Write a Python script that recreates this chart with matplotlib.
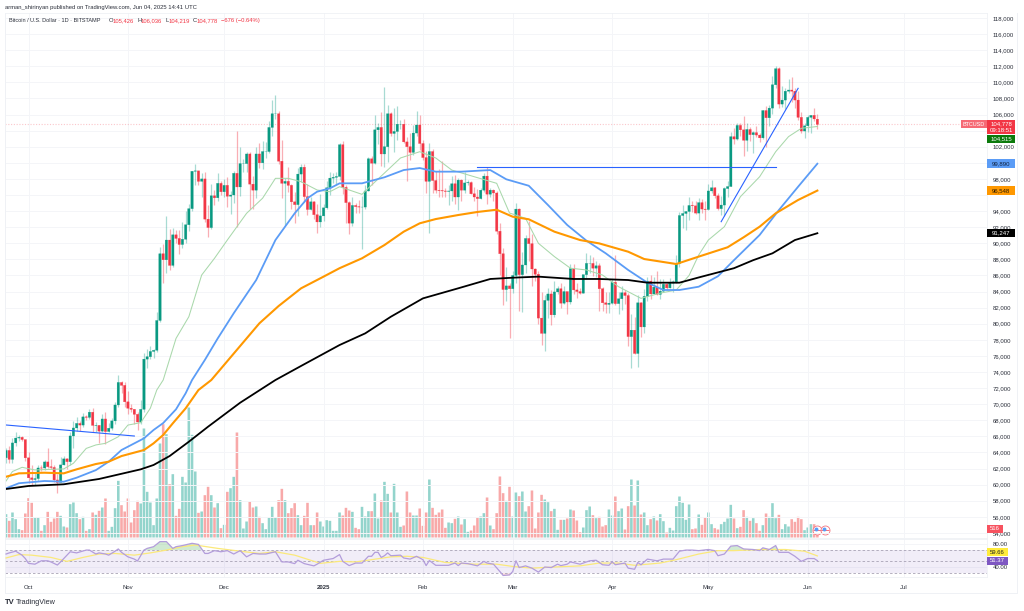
import numpy as np
import pandas as pd
import matplotlib
matplotlib.use('Agg')
import matplotlib.pyplot as plt
from matplotlib.lines import Line2D
from matplotlib.patches import Rectangle
from matplotlib.transforms import blended_transform_factory

plt.rcParams['font.family'] = ['Liberation Sans', 'DejaVu Sans']

start = pd.Timestamp('2024-09-24')

# daily bars, thousands of USD
close = [64.25, 63.14, 65.18, 65.79, 65.88, 65.60, 63.33,
         60.84, 60.63, 60.75, 62.07, 62.06, 62.82, 62.22, 62.13, 60.58, 60.27, 62.45, 63.20, 62.85, 66.05, 67.04,
         67.61, 67.40, 68.42, 68.36, 69.00, 67.36, 67.37, 66.65, 68.16, 66.60, 67.01, 67.92, 69.90, 72.70, 72.34, 70.29,
         69.49, 69.36, 68.74, 67.78, 69.36, 75.60, 75.90, 76.55, 76.70, 80.40, 88.70, 87.95, 90.40, 87.25, 91.05,
         90.60, 89.85, 90.50, 92.30, 94.30, 98.95, 99.00, 97.70, 98.00, 93.00, 91.95, 95.90, 95.65, 97.45, 96.40,
         97.20, 95.85, 96.00, 98.70, 97.00, 99.90, 99.90, 101.10, 97.35, 96.60, 101.10, 100.00, 101.40, 101.40, 104.40,
         106.10, 106.10, 100.20, 97.45, 97.70, 97.20, 95.15, 94.80, 98.60, 99.45, 95.80, 94.20, 95.15, 93.55, 92.65, 93.40,
         94.40, 96.90, 98.10, 98.20, 98.30, 102.25, 96.95, 95.05, 92.50, 94.70, 94.55, 94.50, 94.50, 96.50, 100.50,
         99.95, 104.10, 104.40, 101.10, 102.00, 106.10, 103.65, 103.90, 104.80, 104.80, 102.60, 102.00, 101.30, 103.70, 104.70, 102.40,
         100.65, 97.70, 101.40, 97.80, 96.60, 96.55, 96.50, 96.45, 96.50, 97.40, 95.75, 97.85, 96.60, 97.50,
         97.55, 96.15, 95.75, 95.55, 96.60, 98.35, 96.10, 96.60, 96.25, 91.50, 88.70, 84.25, 84.70, 84.35,
         86.00, 94.25, 86.10, 87.30, 90.60, 89.95, 86.80, 86.15, 80.70, 78.80, 82.90, 83.70, 81.10, 83.95, 84.35,
         82.55, 84.00, 82.70, 86.85, 84.20, 84.00, 83.80, 86.10, 87.50, 87.50, 86.90, 87.20, 84.35, 82.60, 82.40, 82.55,
         85.15, 82.50, 83.10, 83.85, 83.50, 78.40, 79.20, 76.30, 82.60, 79.60, 83.40, 85.30, 83.70, 84.55, 83.65,
         84.05, 84.90, 84.45, 85.05, 85.20, 87.50, 93.45, 93.70, 93.95, 94.70, 94.65, 93.75, 95.05, 94.25, 94.20,
         96.50, 96.90, 95.90, 94.30, 94.75, 96.80, 97.05, 103.25, 102.95, 104.65, 104.10, 102.80, 104.15, 103.50, 103.75,
         103.45, 103.10, 106.50, 105.60, 106.80, 109.70, 111.70, 107.30, 107.80, 108.90, 109.05, 108.90, 107.80, 105.65, 103.95, 104.60,
         105.65, 105.90, 105.454, 104.778]
high = [64.6, 64.8, 65.8, 66.5, 66.2, 66.1, 65.6,
        64.1, 62.4, 61.5, 62.5, 62.4, 63.0, 64.5, 63.2, 62.5, 61.3, 63.4, 63.5, 63.3, 66.5, 67.9,
        68.4, 67.9, 68.9, 68.7, 69.4, 69.5, 67.8, 67.4, 68.8, 69.0, 67.7, 68.3, 70.3, 73.6, 72.9, 72.7,
        71.6, 70.0, 69.4, 69.0, 70.5, 76.4, 76.9, 77.2, 76.9, 81.5, 89.5, 89.9, 93.4, 91.8, 91.9,
        91.7, 91.7, 92.6, 94.0, 94.9, 99.0, 99.8, 99.0, 98.7, 98.9, 94.7, 97.4, 96.6, 98.7, 97.8,
        98.0, 98.2, 96.5, 99.0, 103.9, 102.0, 100.5, 101.4, 101.3, 98.3, 102.0, 102.5, 102.7, 102.6, 105.2,
        107.8, 108.4, 106.5, 102.8, 98.1, 99.5, 97.4, 96.4, 99.4, 99.9, 99.9, 97.4, 95.7, 95.2, 94.9, 96.1,
        94.9, 97.8, 98.9, 98.7, 98.8, 102.5, 102.7, 97.2, 95.3, 95.8, 95.0, 95.4, 95.9, 97.3, 100.7,
        100.8, 105.9, 104.9, 106.3, 109.4, 107.2, 106.3, 106.8, 107.1, 105.3, 105.5, 103.2, 103.7, 104.7, 106.4, 106.0,
        102.8, 101.5, 102.5, 101.7, 99.0, 99.2, 100.2, 96.9, 97.3, 98.3, 98.5, 98.1, 98.0, 98.8,
        97.9, 97.7, 97.0, 96.7, 96.9, 98.7, 99.5, 96.9, 96.7, 96.5, 92.5, 89.4, 87.0, 85.1,
        86.6, 95.0, 94.4, 88.9, 91.0, 92.8, 91.2, 86.9, 86.5, 84.0, 83.6, 84.4, 84.2, 85.3, 84.7,
        85.0, 84.7, 84.0, 87.4, 87.4, 85.0, 84.5, 86.1, 88.8, 88.5, 88.3, 87.8, 87.5, 84.6, 83.9, 83.9,
        85.5, 88.5, 83.9, 84.7, 84.2, 83.8, 81.2, 80.8, 83.6, 82.7, 84.3, 85.8, 86.1, 85.8, 86.5,
        85.5, 85.5, 85.1, 85.7, 85.4, 88.5, 93.9, 94.7, 94.0, 95.8, 95.3, 95.3, 95.6, 95.5, 95.2,
        97.4, 97.9, 97.0, 96.3, 95.9, 97.0, 97.7, 103.8, 104.3, 104.9, 105.0, 105.8, 104.9, 104.4, 104.0,
        104.6, 103.7, 106.6, 107.0, 107.2, 110.8, 112.0, 111.9, 109.5, 109.3, 110.4, 110.7, 109.3, 108.9, 106.3, 105.0,
        105.9, 105.9, 106.8, 106.036]
low = [62.7, 62.7, 62.7, 64.8, 65.4, 65.4, 62.9,
       60.2, 60.0, 59.9, 60.5, 61.7, 61.8, 62.1, 61.9, 60.3, 58.9, 60.4, 62.4, 62.0, 62.4, 64.5,
       66.7, 66.7, 67.1, 68.0, 68.1, 66.6, 66.6, 65.2, 66.5, 65.1, 66.5, 66.8, 67.5, 69.7, 71.4, 69.6,
       68.8, 69.0, 67.5, 66.8, 67.5, 69.0, 74.5, 75.6, 75.8, 76.5, 80.2, 85.1, 86.3, 86.7, 87.1,
       90.0, 88.7, 89.4, 90.0, 91.5, 94.0, 97.2, 97.2, 95.8, 92.6, 90.8, 91.8, 94.7, 95.3, 96.0,
       95.7, 94.5, 93.6, 95.0, 92.0, 95.9, 98.9, 98.9, 94.2, 94.3, 95.6, 99.3, 99.2, 100.6, 101.2,
       103.3, 105.4, 99.9, 95.6, 92.3, 96.4, 94.2, 92.5, 93.4, 97.6, 95.1, 93.5, 94.1, 93.0, 91.3, 92.0,
       92.8, 94.2, 96.0, 97.5, 97.2, 97.9, 96.1, 92.5, 91.2, 92.2, 93.8, 93.7, 89.3, 94.3, 96.5,
       97.3, 99.9, 102.3, 99.6, 99.5, 100.1, 103.3, 101.3, 102.8, 104.2, 102.5, 97.7, 100.3, 101.0, 103.3, 101.6,
       100.3, 96.2, 91.3, 96.2, 96.2, 95.7, 95.7, 95.7, 94.7, 95.3, 94.9, 94.1, 95.2, 96.3,
       97.3, 96.1, 95.2, 93.4, 95.5, 96.4, 94.9, 95.8, 95.2, 91.2, 86.1, 82.3, 82.8, 78.2,
       83.8, 85.0, 81.6, 81.4, 86.3, 87.8, 84.7, 85.3, 80.0, 77.4, 76.6, 80.7, 79.9, 80.8, 83.7,
       81.9, 82.4, 81.2, 82.5, 83.7, 83.2, 83.7, 83.8, 85.5, 86.3, 85.9, 85.8, 81.6, 81.6, 81.3, 81.3,
       82.4, 82.3, 81.2, 81.7, 82.4, 77.2, 74.5, 76.2, 74.6, 78.4, 78.9, 82.8, 83.1, 83.7, 83.6,
       83.1, 83.9, 84.2, 84.4, 83.9, 85.1, 87.1, 91.9, 91.7, 92.9, 93.9, 93.6, 92.9, 93.8, 92.9,
       94.1, 96.3, 95.6, 94.1, 93.5, 93.4, 95.8, 97.1, 102.3, 102.8, 103.3, 100.8, 101.5, 102.7, 101.2,
       103.2, 102.6, 103.0, 102.0, 104.6, 106.1, 109.3, 106.8, 106.9, 106.7, 108.7, 107.6, 106.8, 105.3, 103.7, 103.1,
       103.8, 103.7, 105.2, 104.219]
first_open = 63.34

# bar heights, relative units
volume = [70, 50, 75, 55, 25, 22, 72, 118, 104, 60, 60, 20, 37, 77, 47, 57, 77, 65, 33, 30,
          100, 105, 73, 55, 62, 20, 25, 75, 68, 80, 90, 117, 20, 32, 88, 170, 97, 78, 117, 45,
          82, 110, 102, 327, 137, 105, 37, 117, 282, 340, 310, 160, 190, 65, 86, 182, 165, 390, 308, 198,
          74, 78, 127, 152, 127, 90, 103, 28, 38, 137, 148, 182, 315, 112, 27, 48, 107, 90, 93, 62,
          43, 25, 59, 92, 60, 112, 146, 112, 73, 88, 103, 67, 37, 65, 104, 37, 37, 75, 48, 33,
          52, 50, 20, 20, 75,
          66, 89, 81, 77, 29, 25, 92, 63, 79, 79, 132, 57, 111, 167, 131, 75, 161, 75, 32, 36,
          138, 75, 66, 66, 87, 35, 75, 174, 89, 68, 75, 84, 29, 45, 43, 56, 63, 39, 55, 17,
          21, 36, 61, 63, 73, 120, 36, 25, 73, 183, 133, 110, 152, 63, 135, 124, 138, 78, 94, 141,
          27, 75, 128, 114, 106, 79, 86, 23, 53, 53, 57, 84, 81, 51, 16, 30, 82, 93, 67, 58,
          62, 33, 37, 84, 66, 123, 79, 87, 24, 94, 174, 96, 171, 69, 75, 37, 55, 63, 51, 70,
          49, 15, 29, 21, 94, 123, 104, 53, 99, 25, 27, 69,
          38, 60, 75, 40, 28, 24, 40, 47, 57, 98, 57, 28, 32, 82, 62, 50, 58, 43, 20, 37,
          72, 62, 103, 58, 68, 25, 40, 33, 55, 47, 62, 55, 22, 30, 40, 40, 22]

# moving averages, read at the bends of each line
ma20_days = [0, 2, 5, 9, 14, 18, 21, 25, 28, 31, 35, 38, 42, 45, 47, 49, 53, 57, 61, 65, 69, 75, 80, 84, 88,
             92, 97, 101, 104, 111, 113, 118, 123, 129, 134, 139, 146, 153, 157, 162, 166, 171, 176, 181, 186,
             191, 198, 204, 209, 213, 216, 219, 224, 229, 235, 240, 244, 248, 253]
ma20 = [60450, 61630, 62150, 61820, 61900, 61950, 62650, 64500, 64930, 65130, 65950, 67400, 67700, 69500, 71760,
        73000, 78170, 80870, 86050, 88130, 90400, 93720, 95600, 98070, 98070, 97650, 96620, 96410, 97030, 96080,
        96860, 98730, 100600, 101380, 100600, 99100, 98270, 97450, 93760, 93100, 90000, 88340, 86900, 86680, 86050,
        84600, 83150, 83800, 84190, 86000, 88540, 90400, 92060, 95790, 98270, 101380, 103250, 104290, 104515]
ma50_days = [0, 4, 12, 18, 22, 28, 32, 36, 43, 46, 49, 53, 56, 58, 62, 66, 71, 78, 84, 90, 94, 97, 101, 104,
             111, 118, 124, 129, 134, 142, 151, 156, 163, 169, 175, 181, 187, 194, 200, 205, 210, 216, 222, 227,
             235, 241, 247, 253]
ma50 = [59540, 60170, 60450, 60360, 60860, 61800, 62850, 64300, 65750, 66790, 67650, 69360, 71350, 73000, 75500,
        78170, 81300, 85430, 90400, 93720, 95600, 96410, 96830, 97450, 97450, 98200, 99100, 99350, 98900, 98900,
        99100, 97950, 97150, 94750, 92270, 90320, 88750, 86680, 85100, 84190, 84190, 84600, 85900, 87900, 91030,
        94130, 97030, 99890]
ma100_days = [0, 4, 12, 18, 22, 28, 32, 36, 43, 46, 49, 52, 56, 60, 64, 75, 79, 85, 92, 99, 104, 111, 118, 124,
              129, 134, 141, 147, 153, 158, 163, 171, 179, 185, 194, 199, 209, 216, 225, 230, 235, 240, 247, 253]
ma100 = [60980, 61400, 61480, 61400, 61900, 62560, 62850, 63550, 64300, 65130, 66170, 67620, 69480, 71760, 73000,
         78170, 80050, 82200, 84400, 85850, 86900, 88130, 89780, 91440, 92480, 93010, 93510, 93890, 94170, 93300,
         92980, 91440, 90400, 89980, 88950, 88040, 87420, 88340, 89500, 90740, 92060, 93720, 95380, 96548]
ma200_days = [0, 7, 18, 29, 42, 46, 51, 57, 63, 73, 84, 92, 104, 112, 120, 130, 141, 151, 158, 166, 177, 185, 194,
              200, 210, 216, 227, 233, 239, 246, 253]
ma200 = [59455, 59830, 60040, 60700, 61900, 62440, 63550, 65330, 67200, 70180, 73000, 74750, 77350, 78800, 80870,
         83150, 84400, 85560, 85720, 85850, 85560, 85560, 85430, 85100, 85100, 85750, 86900, 87900, 88750, 90400, 91247]

# hand drawn trend lines
line_days = [[0, 40], [147, 240], [223, 247]]
line_prices = [[67410, 66040], [99440, 99440], [92680, 109260]]

rsi_days = [0, 1, 3, 5, 6, 7, 9, 11, 13, 14, 16, 17, 18, 19, 20, 22, 25, 26, 28, 29, 31, 32, 34, 35, 36, 38, 40, 41,
            43, 44, 46, 48, 50, 52, 53, 55, 58, 60, 62, 63, 65, 67, 69, 71, 73, 75, 77, 79, 81, 84, 86, 88, 90, 91,
            93, 96, 97, 99, 102, 104, 105, 107, 109, 111, 113, 114, 115, 116, 117, 118, 119, 120, 123, 124, 126, 128,
            130, 131, 132, 134, 138, 140, 141, 142, 144, 147, 149, 150, 152, 154, 155, 157, 158, 159, 160, 162, 164,
            166, 168, 170, 172, 173, 175, 176, 179, 182, 184, 186, 188, 189, 190, 193, 194, 196, 197, 198, 200, 203,
            205, 208, 210, 212, 214, 216, 219, 221, 222, 224, 226, 228, 230, 233, 235, 236, 238, 240, 241, 244, 246,
            248, 250, 252, 253]
rsi = [63, 65, 68, 61, 55, 46.5, 45, 51, 51, 49, 43.5, 49, 55, 61, 67, 65, 70, 70, 63, 65, 63, 61, 68, 72, 66, 58, 54,
       50.6, 70, 73, 76, 85, 85, 73, 76, 78, 82, 80, 64, 64, 69, 67, 69, 63, 69, 58, 64, 63, 63, 67, 49, 49, 46, 52,
       46, 42, 45, 52, 55, 62, 50, 42.5, 47, 47, 59, 59, 66, 66, 57, 60, 65, 60, 61, 56, 54, 59, 53, 42.5, 51.5, 43,
       43, 47, 42.5, 47, 46, 42, 50, 47, 45, 32, 25, 26, 32, 51, 39, 42, 38, 31, 40, 39, 45, 42.5, 45, 49, 45, 51, 52,
       44, 43, 49, 44, 47, 38, 36, 48, 44, 54, 51, 54, 54, 68, 70, 70, 69, 71, 69, 60, 63, 77, 78, 72, 71, 69, 74, 71,
       78, 66, 66, 59, 50, 55, 55, 51.37]
rsi_ma_days = [0, 4, 8, 14, 19, 24, 29, 34, 40, 45, 50, 55, 59, 66, 73, 79, 84, 90, 98, 104, 109, 114, 120, 125, 130,
               137, 146, 153, 158, 164, 171, 179, 185, 191, 196, 204, 209, 216, 222, 227, 235, 243, 249, 253]
rsi_ma = [56, 62, 61, 57, 50, 57, 63, 64, 61, 65, 70, 76, 79, 73, 68, 64, 67, 61, 46.5, 50, 49, 53, 58, 59, 57,
          48, 45, 45, 41, 38, 40, 42, 47, 47, 43, 47, 53, 63, 69, 69, 71, 71, 68, 59.66]

price_ticks = list(range(54000, 120000, 2000))
hidden_ticks = [104000, 100000, 96000]  # covered by the value tags
month_labels = ['Oct', 'Nov', 'Dec', '2025', 'Feb', 'Mar', 'Apr', 'May', 'Jun', 'Jul']
month_dates = ['2024-10-01', '2024-11-01', '2024-12-01', '2025-01-01', '2025-02-01',
               '2025-03-01', '2025-04-01', '2025-05-01', '2025-06-01', '2025-07-01']

UP = '#089981'
DOWN = '#F23645'
GRID = '#F4F5F8'
TEXT = '#2A2E39'
FS = 4.3

W, H = 1024, 611


def rect(left, top, right, bottom):
    return [left / W, 1 - bottom / H, (right - left) / W, (bottom - top) / H]


def tag(ax, y, label, color, fg, height, x0=987, x1=1015):
    # value tag sitting on the right axis
    tr = blended_transform_factory(ax.transAxes, ax.transData)
    a = (x0 - 5) / 982
    b = (x1 - 5) / 982
    ax.add_patch(Rectangle((a, y - height / 2), b - a, height, transform=tr, color=color,
                           clip_on=False, zorder=20, lw=0))
    ax.text((a + b) / 2, y, label, transform=tr, color=fg, fontsize=FS, ha='center', va='center',
            clip_on=False, zorder=21)


close = np.array(close) * 1000
high = np.array(high) * 1000
low = np.array(low) * 1000
open_ = np.concatenate([[first_open * 1000], close[:-1]])
open_[-1] = 105426
volume = np.array(volume)
days = np.arange(len(close))
up = close >= open_
month_days = [(pd.Timestamp(d) - start).days for d in month_dates]

fig = plt.figure(figsize=(W / 100, H / 100), dpi=100, facecolor='white')
ax_vol = fig.add_axes(rect(5, 13, 987, 537.5))
ax = fig.add_axes(rect(5, 13, 987, 537.5))
ax_rsi = fig.add_axes(rect(5, 538.5, 987, 577))
ax_vol.set_zorder(0)
ax.set_zorder(1)
ax_rsi.set_zorder(2)
ax.patch.set_visible(False)

xlim = (-0.33, 305.9)
price_scale = 124.3

# volume underneath
ax_vol.bar(days[up], volume[up], width=0.8, color='#93D4CC', lw=0, snap=False)
ax_vol.bar(days[~up], volume[~up], width=0.8, color='#F8A9A9', lw=0, snap=False)
ax_vol.set_xlim(xlim)
ax_vol.set_ylim(0, 524.5 * 3)
ax_vol.axis('off')

# candles
ax.vlines(days[up], low[up], high[up], color=UP, alpha=0.35, lw=0.9, zorder=3)
ax.vlines(days[~up], low[~up], high[~up], color=DOWN, alpha=0.4, lw=0.9, zorder=3)
ax.bar(days[up], (close - open_)[up], bottom=open_[up], width=0.74, color=UP, edgecolor=UP, lw=0.2, zorder=4, snap=False)
ax.bar(days[~up], (close - open_)[~up], bottom=open_[~up], width=0.74, color=DOWN, edgecolor=DOWN, lw=0.2, zorder=4, snap=False)

# moving averages
ax.plot(ma20_days, ma20, color='#A9D8AB', lw=0.75, zorder=5)
ax.plot(ma50_days, ma50, color='#5B9CF6', lw=1.3, zorder=5)
ax.plot(ma100_days, ma100, color='#FF9800', lw=1.5, zorder=5)
ax.plot(ma200_days, ma200, color='#000000', lw=1.3, zorder=5)
for d, p in zip(line_days, line_prices):
    ax.plot(d, p, color='#2962FF', lw=0.8, zorder=6)

ax.axhline(close[-1], color=DOWN, alpha=0.28, lw=0.8, ls=(0, (1, 1.5)), zorder=2)

ax.set_xlim(xlim)
ax.set_ylim(118000 - 519.5 * price_scale, 118000 + 5 * price_scale)
ax.yaxis.tick_right()
ax.set_yticks(price_ticks)
ax.set_yticklabels(['' if t in hidden_ticks else '{:,}'.format(t) for t in price_ticks])
ax.set_xticks(month_days)
ax.tick_params(axis='y', length=0, labelsize=FS, labelcolor=TEXT, pad=4)
ax.tick_params(axis='x', length=0, labelbottom=False)
ax.grid(True, color=GRID, lw=0.7)
ax.set_axisbelow(True)
for s in ax.spines.values():
    s.set_color('#EFF1F5')
    s.set_linewidth(0.6)

# event flags after the last bar
flag_days = [253, 255.4]
flag_pos = 22
ax_vol.scatter(flag_days, [flag_pos] * 2, s=42, facecolor='white', edgecolor='#F4737D', lw=0.6, zorder=6, clip_on=False)
ax_vol.scatter(flag_days, [flag_pos] * 2, s=34, marker='_', color='#F4737D', lw=0.7, zorder=7)
ax_vol.scatter([d - 0.3 for d in flag_days], [flag_pos + 5] * 2, s=8, color='#5B9CF6', lw=0, zorder=8)

# price tags
tr = blended_transform_factory(ax.transAxes, ax.transData)
ax.text((974 - 5) / 982, close[-1], 'BTCUSD', transform=tr, fontsize=FS - 0.3, color='white', ha='center', va='center',
        zorder=21, bbox=dict(boxstyle='square,pad=0.25', fc='#F66A75', lw=0))
ax.add_patch(Rectangle((1, 103580), 28 / 982, 1740, transform=tr, color=DOWN, clip_on=False, zorder=20, lw=0))
ax.text(1 + 14 / 982, 104820, '104,778', transform=tr, fontsize=FS, color='white', ha='center', va='center', zorder=21)
ax.text(1 + 14 / 982, 104030, '09:18:51', transform=tr, fontsize=FS, color='white', ha='center', va='center', zorder=21)
tag(ax, 102960, '104,515', '#0B7A0B', 'white', 1000)
tag(ax, 99890, '99,890', '#5B9CF6', '#12233F', 1050)
tag(ax, 96548, '96,548', '#FF9800', '#2B1B00', 1050)
tag(ax, 91247, '91,247', '#000000', 'white', 1000)
tag(ax, 53427 + 8.5 * price_scale, '516', '#F7525F', 'white', 1000, x1=1003)

# rsi pane
ax_rsi.axhspan(30, 70, color='#7E57C2', alpha=0.1, lw=0)
for level in [70, 50, 30]:
    ax_rsi.axhline(level, color='#A8A2B4', lw=0.6, ls=(0, (3, 2.5)))
ax_rsi.plot(rsi_ma_days, rsi_ma, color='#FBE97B', lw=0.9, zorder=3)
ax_rsi.plot(rsi_days, rsi, color='#B39DDB', lw=0.9, zorder=4)
ax_rsi.fill_between(rsi_days, 70, rsi, where=np.array(rsi) > 70, interpolate=True, color='#66BB6A', alpha=0.3, lw=0)
ax_rsi.fill_between(rsi_days, 30, rsi, where=np.array(rsi) < 30, interpolate=True, color='#EF5350', alpha=0.2, lw=0)
ax_rsi.set_xlim(xlim)
ax_rsi.set_ylim(22.3, 90.5)
ax_rsi.yaxis.tick_right()
ax_rsi.set_yticks([40, 80])
ax_rsi.set_yticklabels(['40.00', '80.00'])
ax_rsi.set_xticks(month_days)
ax_rsi.set_xticklabels(month_labels)
ax_rsi.get_xticklabels()[3].set_fontweight('bold')
ax_rsi.tick_params(axis='y', length=0, labelsize=FS, labelcolor=TEXT, pad=4)
ax_rsi.tick_params(axis='x', length=0, labelsize=FS, labelcolor=TEXT, pad=5.5)
ax_rsi.grid(True, color=GRID, lw=0.7)
ax_rsi.set_axisbelow(True)
for s in ax_rsi.spines.values():
    s.set_color('#EFF1F5')
    s.set_linewidth(0.6)
tag(ax_rsi, 66.4, '59.66', '#FFEB3B', '#222222', 14, x1=1008)
tag(ax_rsi, 51.37, '51.37', '#7E57C2', 'white', 14, x1=1008)

# borders of the whole chart
fig.add_artist(Line2D([5 / W, 1017 / W], [1 - 593 / H] * 2, color='#EFF1F5', lw=0.7))
fig.add_artist(Line2D([5 / W, 5 / W], [1 - 593 / H, 1 - 13 / H], color='#EFF1F5', lw=0.7))
fig.add_artist(Line2D([1017 / W, 1017 / W], [1 - 593 / H, 1 - 13 / H], color='#EFF1F5', lw=0.7))

# header
fig.text(5 / W, 1 - 7.5 / H, 'arman_shirinyan published on TradingView.com, Jun 04, 2025 14:41 UTC',
         fontsize=4.2, color=TEXT, va='center')
fig.text(9 / W, 1 - 20.5 / H, 'Bitcoin / U.S. Dollar · 1D · BITSTAMP', fontsize=4.0, color=TEXT, va='center')
header_parts = [(109, 'O', TEXT), (113, '105,426', DOWN), (137, 'H', TEXT), (141, '106,036', DOWN),
                (165, 'L', TEXT), (169, '104,219', DOWN), (193, 'C', TEXT), (197, '104,778', DOWN),
                (221, '−676 (−0.64%)', DOWN)]
for px, s, c in header_parts:
    fig.text(px / W, 1 - 20.5 / H, s, fontsize=4.2, color=c, va='center')

# logo
fig.text(5 / W, 1 - 602.5 / H, 'TV', fontsize=5.5, fontweight='bold', color=TEXT, va='center')
fig.text(16 / W, 1 - 602.5 / H, 'TradingView', fontsize=5.2, color=TEXT, va='center')

fig.savefig('out.png', dpi=100)
